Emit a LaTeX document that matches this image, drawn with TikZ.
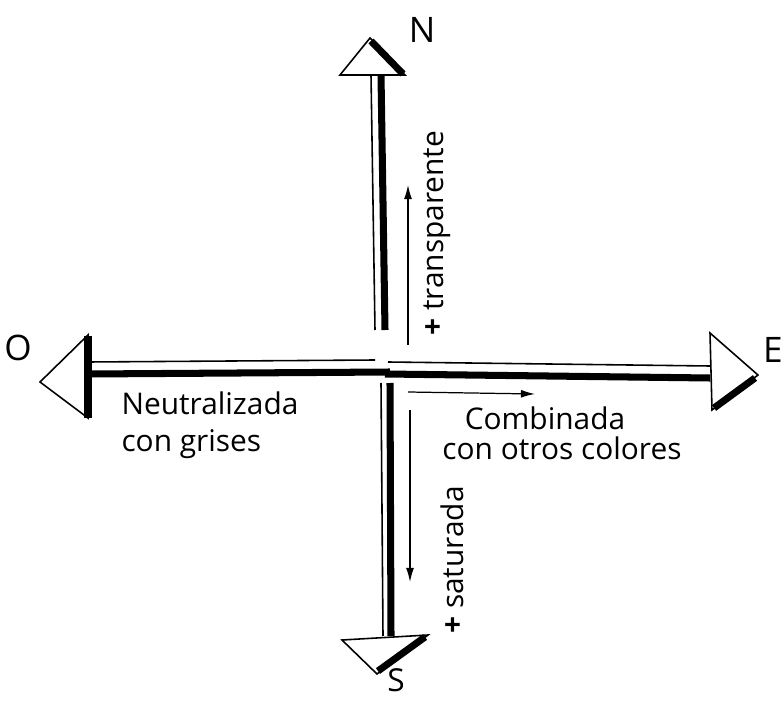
\documentclass[tikz,border=0pt]{standalone}
\usepackage{fontspec}
\setmainfont{Open Sans}
\usetikzlibrary{arrows.meta}

\begin{document}
\begin{tikzpicture}[x=0.02cm, y=-0.02cm, every node/.style={font=\fontsize{17}{21}\selectfont},
    thin/.style={line width=0.9pt},
    heavy/.style={line width=4pt},
    hint/.style={line width=0.7pt, -{Latex[length=8pt,width=4.5pt]}},
    pole/.style={font=\fontsize{20}{24}\selectfont}]

    \useasboundingbox (0,0) rectangle (784,702);

    % North arrow
    \draw[thin, fill=white] (340,75) -- (370,38) -- (405,75) -- cycle;
    \draw[heavy] (371,41) -- (403,74);
    \draw[thin] (371,75) -- (375,330);
    \draw[heavy] (381,75) -- (385,330);
    \node[pole] (north) at (422,30) {N};

    % South arrow
    \draw[thin] (381,383) -- (383,636);
    \draw[heavy] (390,383) -- (391,636);
    \draw[thin, fill=white] (342,640) -- (377,674) -- (428,635) -- cycle;
    \draw[heavy] (378,671) -- (425,637);
    \node[pole, font=\fontsize{18}{20}\selectfont, inner sep=0pt] (south) at (396,680) {S};

    % West arrow
    \draw[thin] (88,362) -- (375,360);
    \draw[heavy] (88,374) -- (390,372);
    \draw[thin, fill=white] (88,335) -- (40,382) -- (88,418) -- cycle;
    \draw[heavy] (88,336) -- (88,418);
    \node[pole] (west) at (18,348) {O};

    % East arrow
    \draw[thin] (388,362) -- (710,366);
    \draw[heavy] (385,374) -- (710,378);
    \draw[thin, fill=white] (710,333) -- (758,375) -- (712,410) -- cycle;
    \draw[heavy] (755,378) -- (714,408);
    \node[pole] (east) at (773,350) {E};

    % transparente
    \coordinate (tr0) at (408,345);
    \coordinate (tr1) at (408,185);
    \draw[hint] (tr0) -- (tr1);
    \node[rotate=90, anchor=west] (transp) at (437,342) {\textbf{+} transparente};

    % saturada
    \coordinate (sa0) at (410,410);
    \coordinate (sa1) at (410,582);
    \draw[hint] (sa0) -- (sa1);
    \node[rotate=90, anchor=west] (satur) at (452,640) {\textbf{+} saturada};

    % combinada
    \coordinate (co0) at (408,392);
    \coordinate (co1) at (535,394);
    \draw[hint] (co0) -- (co1);
    \node (comb) at (545,418) {Combinada};
    \node (otros) at (562,448) {con otros colores};

    % neutralizada
    \node[align=left] (neutral) at (210,425) {Neutralizada\\con grises};

\end{tikzpicture}
\end{document}
